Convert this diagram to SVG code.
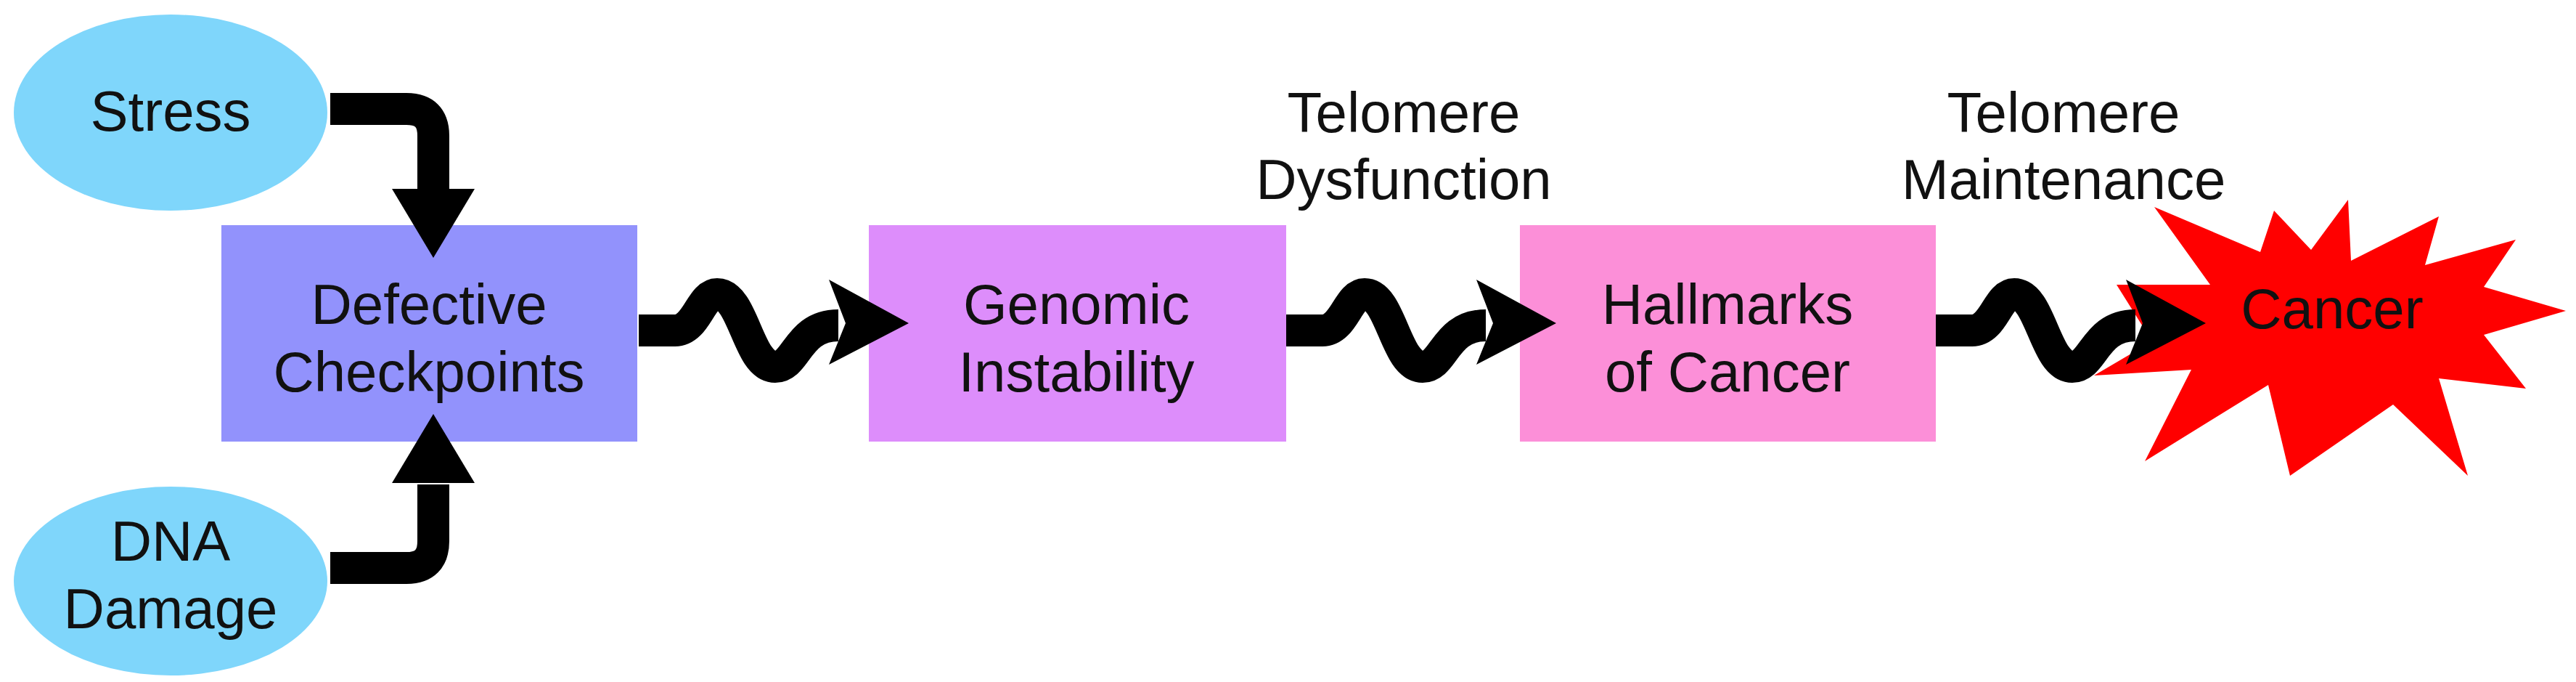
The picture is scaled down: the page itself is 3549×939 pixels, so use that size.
<svg xmlns="http://www.w3.org/2000/svg" width="3549" height="939" viewBox="0 0 3549 939">
<style>
text{font-family:"Liberation Sans",Arial,sans-serif;font-size:78px;text-anchor:middle;fill:#111}
.ell{fill:#7fd6fb}
.ln{fill:none;stroke:#000;stroke-width:44}
.hd{fill:#000}
</style>
<rect width="3549" height="939" fill="#fff"/>
<g id="cancer"><polygon fill="#ff0000" points="2968,285 3114,347 3133,290 3184,344 3235,275 3239,359 3360,298 3341,365 3466,330 3422,395 3535,428 3422,461 3480,535 3360,521 3400,655 3297,557 3155,655 3125,530 2955,635 3019,509 2885,517 2965,470 2916,392 3045,392"/><text x="3213" y="452">Cancer</text></g>
<g id="stress"><ellipse class="ell" cx="235" cy="155" rx="216" ry="135"/><text x="235" y="180">Stress</text></g>
<g id="dna"><ellipse class="ell" cx="235" cy="800" rx="216" ry="130"/><text x="235" y="772">DNA</text><text x="235" y="865">Damage</text></g>
<g id="defective"><rect x="305" y="310" width="573" height="298" fill="#9292fc"/><text x="591" y="446" fill="#15154a">Defective</text><text x="591" y="539" fill="#15154a">Checkpoints</text></g>
<g id="genomic"><rect x="1197" y="310" width="575" height="298" fill="#dd8dfb"/><text x="1483" y="446">Genomic</text><text x="1483" y="539">Instability</text></g>
<g id="hallmarks"><rect x="2094" y="310" width="573" height="298" fill="#fc8fd8"/><text x="2380" y="446">Hallmarks</text><text x="2380" y="539">of Cancer</text></g>
<g id="labels"><text x="1934" y="182">Telomere</text><text x="1934" y="274">Dysfunction</text><text x="2843" y="182">Telomere</text><text x="2843" y="274">Maintenance</text></g>
<g id="connectors">
<path class="ln" d="M455,150 H560 Q597,150 597,187 V262"/><polygon class="hd" points="540,260 654,260 597,355"/>
<path class="ln" d="M455,782 H560 Q597,782 597,745 V667"/><polygon class="hd" points="540,665 654,665 597,570"/>
<g transform="translate(880,0)"><path class="ln" d="M0,455 H50 C80,455 85,405 108,405 C145,405 150,505 188,505 C218,505 218,448 275,448"/><polygon class="hd" points="262,385 372,445 262,502 285,445"/></g>
<g transform="translate(1772,0)"><path class="ln" d="M0,455 H50 C80,455 85,405 108,405 C145,405 150,505 188,505 C218,505 218,448 275,448"/><polygon class="hd" points="262,385 372,445 262,502 285,445"/></g>
<g transform="translate(2667,0)"><path class="ln" d="M0,455 H50 C80,455 85,405 108,405 C145,405 150,505 188,505 C218,505 218,448 275,448"/><polygon class="hd" points="262,385 372,445 262,502 285,445"/></g>
</g>
</svg>
